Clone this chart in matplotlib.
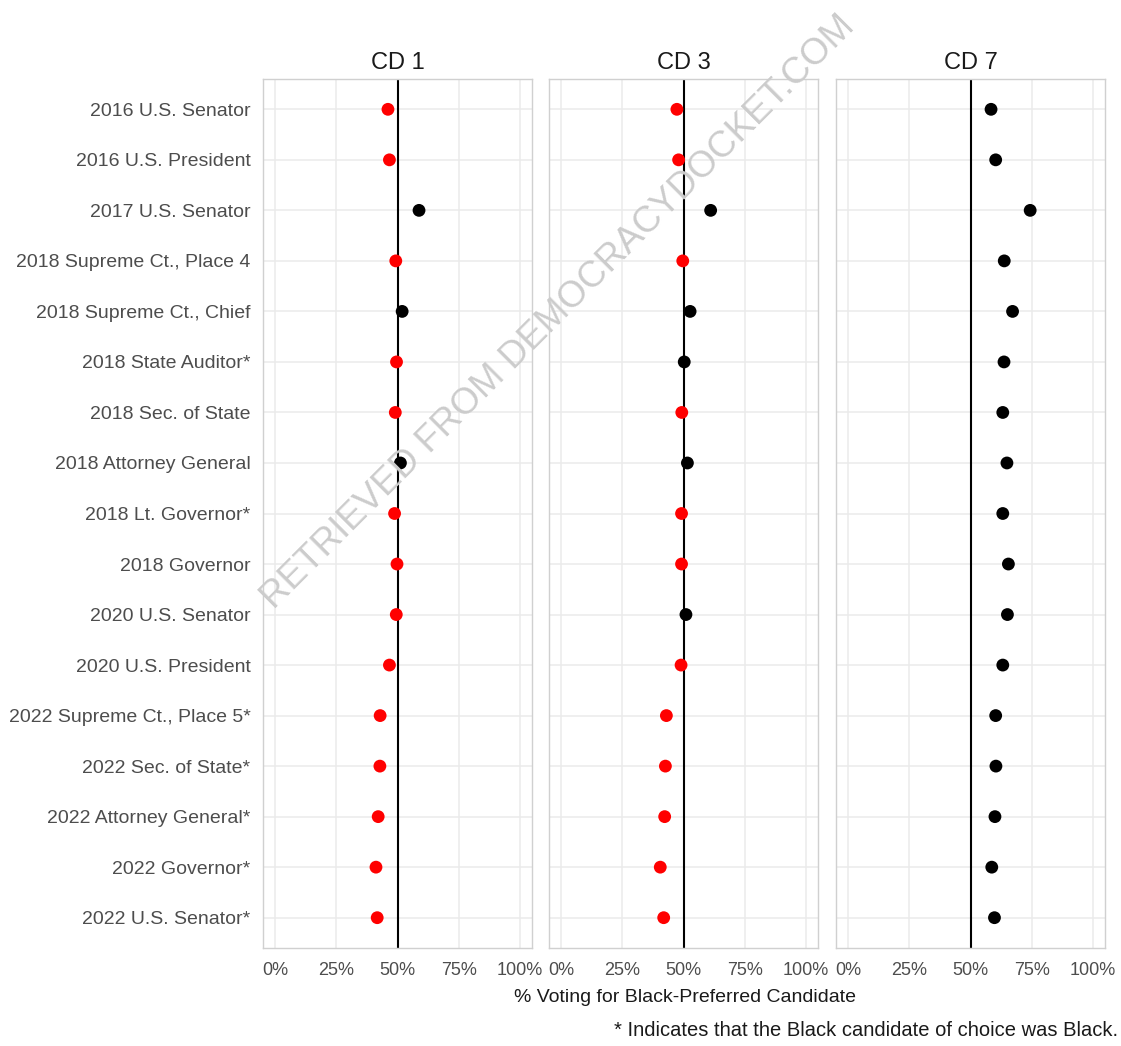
import matplotlib.pyplot as plt
import numpy as np

plt.rcParams['font.family'] = ['Liberation Sans', 'DejaVu Sans']

# Contests, top to bottom
contests = [
    "2016 U.S. Senator", "2016 U.S. President", "2017 U.S. Senator",
    "2018 Supreme Ct., Place 4", "2018 Supreme Ct., Chief", "2018 State Auditor*",
    "2018 Sec. of State", "2018 Attorney General", "2018 Lt. Governor*",
    "2018 Governor", "2020 U.S. Senator", "2020 U.S. President",
    "2022 Supreme Ct., Place 5*", "2022 Sec. of State*", "2022 Attorney General*",
    "2022 Governor*", "2022 U.S. Senator*",
]

districts = ["CD 1", "CD 3", "CD 7"]

# Share voting for the Black-preferred candidate
cd1 = [0.461, 0.467, 0.588, 0.493, 0.519, 0.496, 0.491, 0.512, 0.488,
       0.498, 0.495, 0.467, 0.429, 0.428, 0.421, 0.412, 0.417]
cd3 = [0.473, 0.480, 0.611, 0.497, 0.527, 0.503, 0.493, 0.516, 0.492,
       0.492, 0.510, 0.490, 0.430, 0.426, 0.423, 0.405, 0.419]
cd7 = [0.584, 0.603, 0.744, 0.638, 0.672, 0.637, 0.632, 0.649, 0.632,
       0.655, 0.651, 0.632, 0.603, 0.604, 0.600, 0.587, 0.598]

xticks = [0, 0.25, 0.5, 0.75, 1.0]
xtick_labels = ["0%", "25%", "50%", "75%", "100%"]

W, H = 1121, 1046
fig = plt.figure(figsize=(W / 100, H / 100), dpi=100)

lefts = [263, 549, 836]
pw = 269
top, bottom = 79, 948
y = np.arange(len(contests))

for i, (name, vals) in enumerate(zip(districts, [cd1, cd3, cd7])):
    ax = fig.add_axes([lefts[i] / W, 1 - bottom / H, pw / W, (bottom - top) / H])
    vals = np.array(vals)
    colors = np.where(vals < 0.5, "#ff0000", "#000000")
    ax.set_xlim(-0.05, 1.05)
    ax.set_ylim(len(contests) - 0.4, -0.6)
    ax.set_xticks(xticks)
    ax.set_xticklabels(xtick_labels)
    ax.set_yticks(y)
    if i == 0:
        ax.set_yticklabels(contests)
    else:
        ax.set_yticklabels([])
    ax.grid(True, color="#ebebeb", lw=1.1)
    ax.set_axisbelow(True)
    ax.axvline(0.5, color="black", lw=1.5, zorder=2)
    ax.scatter(vals, y, c=colors, s=85, zorder=3, linewidths=0)
    ax.tick_params(axis="x", length=0, labelsize=13, colors="#4d4d4d", pad=10)
    ax.tick_params(axis="y", length=0, labelsize=14, colors="#4d4d4d", pad=9)
    for s in ax.spines.values():
        s.set_color("#d0d0d0")
        s.set_linewidth(1.0)
    ax.set_title(name, fontsize=17, color="#1a1a1a", pad=7)

fig.text(685 / W, 1 - 998 / H, "% Voting for Black-Preferred Candidate",
         ha="center", va="center", fontsize=14, color="#1a1a1a")
fig.text(1118 / W, 1 - 1030 / H,
         "* Indicates that the Black candidate of choice was Black.",
         ha="right", va="center", fontsize=14.5, color="#1a1a1a")

# Diagonal watermark
fig.text(558 / W, 1 - 312 / H, "RETRIEVED FROM DEMOCRACYDOCKET.COM",
         rotation=45, ha="center", va="center", fontsize=26.5,
         color="#cccccc", zorder=10)

fig.savefig("out.png", dpi=100, facecolor="white")
